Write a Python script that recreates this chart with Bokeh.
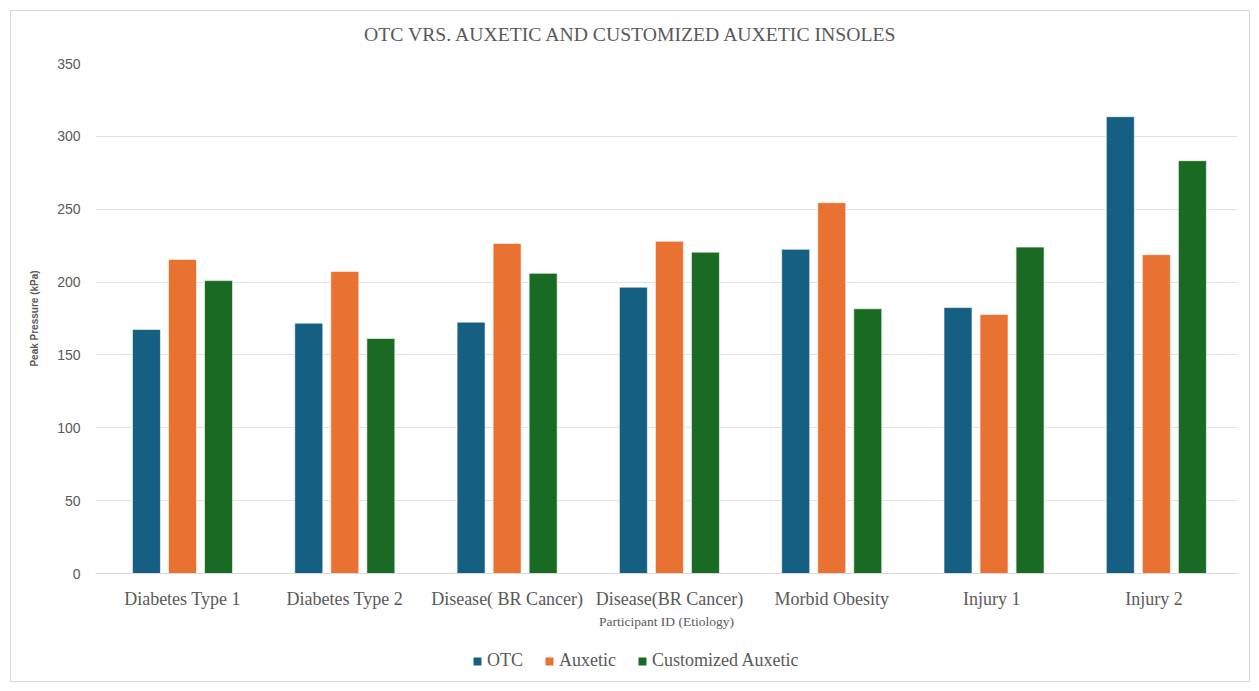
import numpy as np
from bokeh.plotting import figure
from bokeh.layouts import column
from bokeh.models import Legend, LegendItem, ColumnDataSource, Range1d, FixedTicker, Label
from bokeh.transform import dodge
from bokeh.embed import file_html
from bokeh.resources import INLINE

# Participant etiologies and peak plantar pressure (kPa) per insole type
categories = ["Diabetes Type 1", "Diabetes Type 2", "Disease( BR Cancer)", "Disease(BR Cancer)",
              "Morbid Obesity", "Injury  1", "Injury  2"]
otc = [167.5, 171.8, 172.5, 196.5, 222.5, 182.5, 313.5]
auxetic = [215.5, 207.3, 226.5, 228.0, 254.5, 177.8, 218.8]
customized = [201.0, 161.3, 206.0, 220.5, 181.7, 224.0, 283.3]
series_names = ["OTC", "Auxetic", "Customized Auxetic"]
series_keys = ["otc", "aux", "cus"]
series_colors = ["#156082", "#E97132", "#196B24"]
y_ticks = [0, 50, 100, 150, 200, 250, 300, 350]
chart_title = "OTC VRS. AUXETIC AND CUSTOMIZED AUXETIC INSOLES"

idx = np.arange(len(categories))
source = ColumnDataSource(dict(idx=idx, otc=otc, aux=auxetic, cus=customized))

SERIF = "Liberation Serif"
SANS = "Liberation Sans"
GRAY = "#595959"
W = 1238
BORDER_L, BORDER_R = 84, 12
FRAME_W = W - BORDER_L - BORDER_R   # the column lines every row's frame up with the chart's


def strip(height):
    """Bare full-width figure used for the title and legend rows (pixel-unit ranges)."""
    f = figure(width=W, height=height, x_range=Range1d(0, FRAME_W), y_range=Range1d(0, height),
               x_axis_location=None, y_axis_location=None, output_backend="svg",
               toolbar_location=None, min_border_left=BORDER_L, min_border_right=BORDER_R,
               min_border_top=0, min_border_bottom=0)
    f.grid.visible = False
    f.outline_line_color = None
    return f


# title row, centred on the whole chart area
head = strip(42)
head.add_layout(Label(x=W / 2 + 1 - BORDER_L, y=20, text=chart_title, text_align="center",
                      text_baseline="middle", text_font=SERIF, text_font_size="19.7px",
                      text_color=GRAY))

# main chart
p = figure(width=W, height=588, x_range=Range1d(-0.536, 6.5), y_range=Range1d(0, 350),
           output_backend="svg", toolbar_location=None,
           min_border_left=BORDER_L, min_border_right=BORDER_R, min_border_top=10,
           min_border_bottom=68)

offsets = [-0.222, 0.0, 0.222]
for key, off, col in zip(series_keys, offsets, series_colors):
    p.vbar(x=dodge("idx", off), top=key, width=0.1725, bottom=0, source=source,
           fill_color=col, line_color="white", line_width=1, line_alpha=0.6)

p.outline_line_color = None
p.xgrid.grid_line_color = None
p.ygrid.grid_line_color = "#e3e3e3"
p.ygrid.grid_line_width = 1

p.yaxis.ticker = FixedTicker(ticks=y_ticks)
p.yaxis.axis_line_color = None
p.yaxis.major_tick_line_color = None
p.yaxis.minor_tick_line_color = None
p.yaxis.major_label_text_font = SANS
p.yaxis.major_label_text_font_size = "14px"
p.yaxis.major_label_text_color = GRAY
p.yaxis.major_label_standoff = 9
p.yaxis.axis_label = "Peak Pressure (kPa)"
p.yaxis.axis_label_text_font = "Liberation Sans Narrow, Liberation Sans"
p.yaxis.axis_label_text_font_size = "10px"
p.yaxis.axis_label_text_font_style = "bold"
p.yaxis.axis_label_text_color = GRAY
p.yaxis.axis_label_standoff = 14

p.xaxis.ticker = FixedTicker(ticks=list(idx))
p.xaxis.major_label_overrides = {int(i): c for i, c in zip(idx, categories)}
p.xaxis.axis_line_color = "#d9d9d9"
p.xaxis.axis_line_width = 1
p.xaxis.major_tick_line_color = None
p.xaxis.minor_tick_line_color = None
p.xaxis.major_label_text_font = SERIF
p.xaxis.major_label_text_font_size = "18px"
p.xaxis.major_label_text_color = GRAY
p.xaxis.major_label_standoff = 9
p.xaxis.axis_label = "Participant ID (Etiology)"
p.xaxis.axis_label_text_font = SERIF
p.xaxis.axis_label_text_font_size = "13.5px"
p.xaxis.axis_label_text_font_style = "normal"
p.xaxis.axis_label_text_color = GRAY
p.xaxis.axis_label_standoff = 2

# legend row: zero-area key glyphs carry the series colours
lg = strip(40)
key_renderers = [lg.vbar(x=[0], top=[0], bottom=[0], width=0, fill_color=col, line_color=None)
                 for col in series_colors]
legend = Legend(items=[LegendItem(label=n, renderers=[r]) for n, r in zip(series_names, key_renderers)],
                orientation="horizontal", location=(377, 10))
legend.label_text_font = SERIF
legend.label_text_font_size = "18px"
legend.label_text_color = GRAY
legend.glyph_width = 10
legend.glyph_height = 10
legend.spacing = 21
legend.label_standoff = 5
legend.border_line_color = None
legend.background_fill_alpha = 0
legend.padding = 0
legend.margin = 0
lg.add_layout(legend, "center")

page = column(head, p, lg, spacing=0)
page.margin = (10, 10, 10, 10)
page.styles = {"border": "1px solid #d9d9d9"}

open("out.html", "w").write(file_html(page, INLINE))
